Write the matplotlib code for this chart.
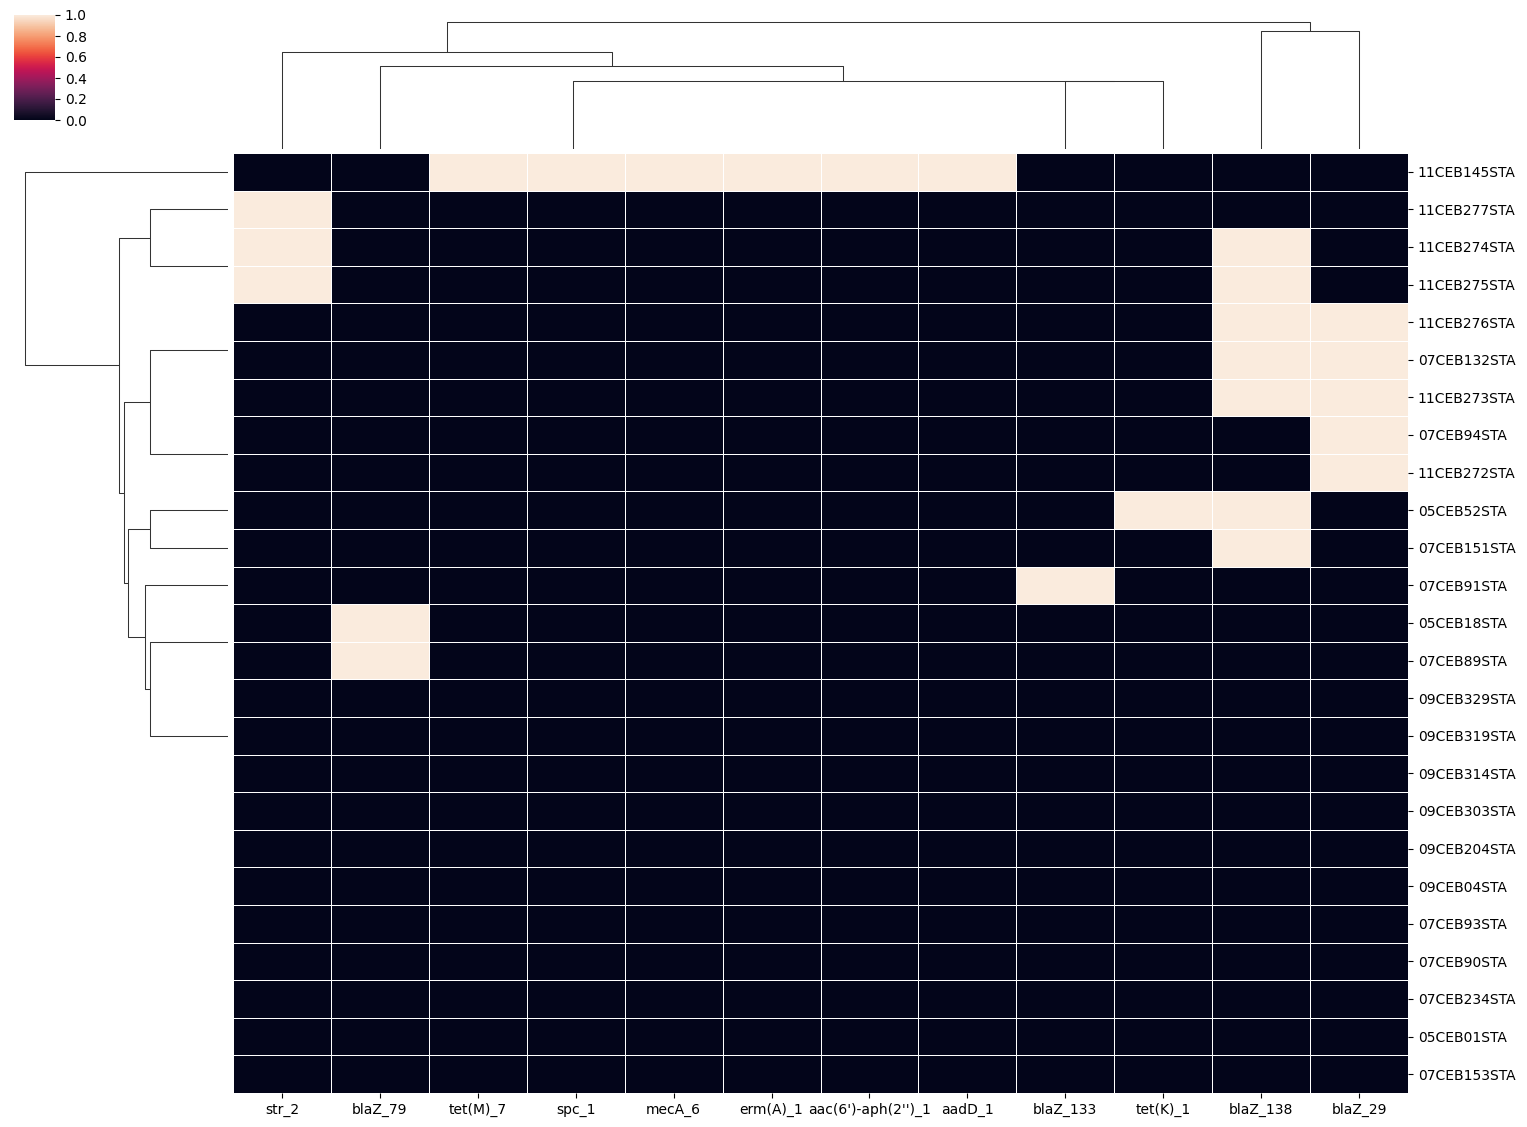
import numpy as np
import pandas as pd
import matplotlib
matplotlib.use("Agg")
import matplotlib.pyplot as plt
import seaborn as sns
from matplotlib.collections import LineCollection

# isolates (rows) and resistance genes (columns), in clustered display order
samples = ["11CEB145STA", "11CEB277STA", "11CEB274STA", "11CEB275STA", "11CEB276STA",
           "07CEB132STA", "11CEB273STA", "07CEB94STA", "11CEB272STA", "05CEB52STA",
           "07CEB151STA", "07CEB91STA", "05CEB18STA", "07CEB89STA", "09CEB329STA",
           "09CEB319STA", "09CEB314STA", "09CEB303STA", "09CEB204STA", "09CEB04STA",
           "07CEB93STA", "07CEB90STA", "07CEB234STA", "05CEB01STA", "07CEB153STA"]
genes = ["str_2", "blaZ_79", "tet(M)_7", "spc_1", "mecA_6", "erm(A)_1",
         "aac(6')-aph(2'')_1", "aadD_1", "blaZ_133", "tet(K)_1", "blaZ_138", "blaZ_29"]

presence = [
    [0, 0, 1, 1, 1, 1, 1, 1, 0, 0, 0, 0],
    [1, 0, 0, 0, 0, 0, 0, 0, 0, 0, 0, 0],
    [1, 0, 0, 0, 0, 0, 0, 0, 0, 0, 1, 0],
    [1, 0, 0, 0, 0, 0, 0, 0, 0, 0, 1, 0],
    [0, 0, 0, 0, 0, 0, 0, 0, 0, 0, 1, 1],
    [0, 0, 0, 0, 0, 0, 0, 0, 0, 0, 1, 1],
    [0, 0, 0, 0, 0, 0, 0, 0, 0, 0, 1, 1],
    [0, 0, 0, 0, 0, 0, 0, 0, 0, 0, 0, 1],
    [0, 0, 0, 0, 0, 0, 0, 0, 0, 0, 0, 1],
    [0, 0, 0, 0, 0, 0, 0, 0, 0, 1, 1, 0],
    [0, 0, 0, 0, 0, 0, 0, 0, 0, 0, 1, 0],
    [0, 0, 0, 0, 0, 0, 0, 0, 1, 0, 0, 0],
    [0, 1, 0, 0, 0, 0, 0, 0, 0, 0, 0, 0],
    [0, 1, 0, 0, 0, 0, 0, 0, 0, 0, 0, 0],
] + [[0] * 12 for _ in range(11)]

cbar_ticks = [0.0, 0.2, 0.4, 0.6, 0.8, 1.0]

# cluster topology (leaf = display index); merge heights come from the data
zero_chain = (14, (15, (16, (17, (18, (19, (20, (21, (22, (23, 24))))))))))
row_a = (1, (2, 3))
row_b1 = ((4, (5, 6)), (7, 8))
row_b2 = ((9, 10), (11, ((12, 13), zero_chain)))
row_tree = (0, (row_a, (row_b1, row_b2)))

col_same = (2, (3, (4, (5, (6, 7)))))
col_tree = ((0, (1, (col_same, (8, 9)))), (10, 11))


def euclid(m):
    return np.sqrt(((m[:, None, :] - m[None, :, :]) ** 2).sum(-1))


def walk(node, dist):
    # average linkage height = mean pairwise distance between the two groups
    if isinstance(node, int):
        return node + 0.5, 0.0, [node], []
    lc, lh, ll, ls = walk(node[0], dist)
    rc, rh, rl, rs = walk(node[1], dist)
    h = dist[np.ix_(ll, rl)].mean()
    segs = ls + rs
    if h > 0:  # identical groups merge on the axis edge, nothing to see
        segs.append([(lc, lh), (lc, h), (rc, h), (rc, rh)])
    return (lc + rc) / 2, h, ll + rl, segs


X = np.array(presence, dtype=float)
df = pd.DataFrame(X, index=samples, columns=genes)

_, row_top, _, row_segs = walk(row_tree, euclid(X))
_, col_top, _, col_segs = walk(col_tree, euclid(X.T))

W, H = 1527, 1127
fig = plt.figure(figsize=(W / 100, H / 100), dpi=100)


def box(l, t, r, b):
    return [l / W, 1 - b / H, (r - l) / W, (b - t) / H]


ax_hm = fig.add_axes(box(233, 153, 1408, 1093))
ax_row = fig.add_axes(box(15, 153, 228, 1093))
ax_col = fig.add_axes(box(233, 16, 1408, 148.7))
ax_cb = fig.add_axes(box(14, 15, 55, 120))

sns.heatmap(df, ax=ax_hm, cbar_ax=ax_cb, cmap=sns.color_palette("rocket", as_cmap=True),
            linewidths=0.5, linecolor="white", vmin=0, vmax=1)
ax_hm.yaxis.set_ticks_position("right")
ax_hm.yaxis.set_label_position("right")
plt.setp(ax_hm.get_yticklabels(), rotation=0)
plt.setp(ax_hm.get_xticklabels(), rotation=0)
ax_hm.set_xlabel("")
ax_hm.set_ylabel("")

cbar = ax_hm.collections[0].colorbar
cbar.set_ticks(cbar_ticks)
cbar.set_ticklabels([f"{t:.1f}" for t in cbar_ticks])

tree_color = (0.2, 0.2, 0.2)
row_lines = [[(h, p) for p, h in seg] for seg in row_segs]
ax_row.add_collection(LineCollection(row_lines, linewidths=0.75, colors=tree_color))
ax_row.set_ylim(len(samples), 0)
ax_row.set_xlim(row_top * 1.05, 0)
ax_row.axis("off")

ax_col.add_collection(LineCollection(col_segs, linewidths=0.75, colors=tree_color))
ax_col.set_xlim(0, len(genes))
ax_col.set_ylim(0, col_top * 1.05)
ax_col.axis("off")

fig.savefig("out.png", dpi=100)
